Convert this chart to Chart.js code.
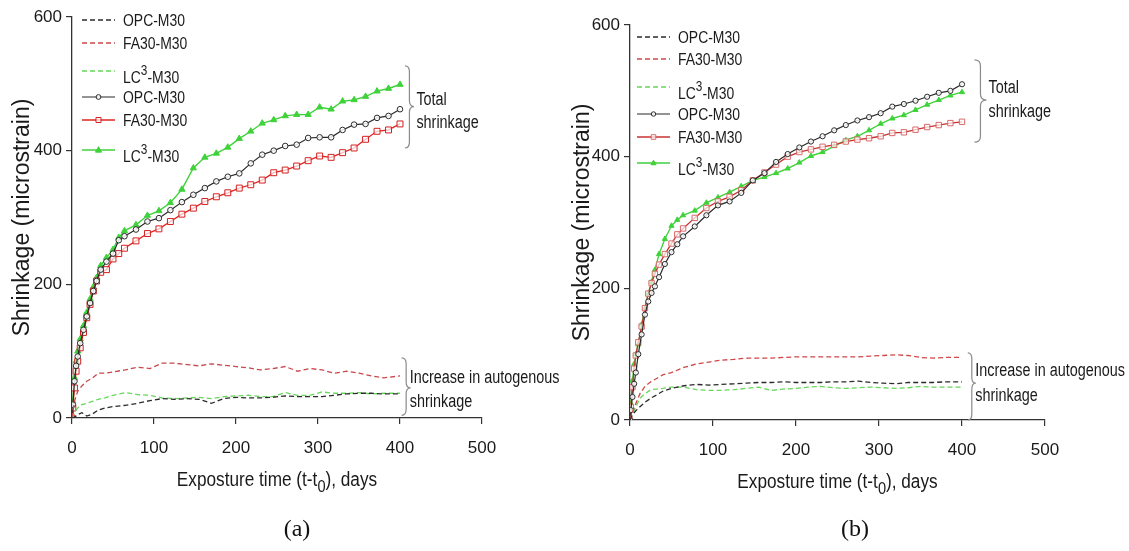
<!DOCTYPE html>
<html><head><meta charset="utf-8">
<script src="https://cdn.jsdelivr.net/npm/chart.js@4/dist/chart.umd.min.js"></script>
<style>
html,body{margin:0;padding:0;background:#fff;width:1129px;height:551px;overflow:hidden}
#ca{position:absolute;left:0;top:0}
#cb{position:absolute;left:560px;top:0}
</style></head><body>
<canvas id="ca" width="560" height="551"></canvas>
<canvas id="cb" width="569" height="551"></canvas>
<script>
// ---------------- DATA ----------------
const X_TICKS = [0, 100, 200, 300, 400, 500];
const Y_TICKS = [0, 200, 400, 600];

const DAYS_TOTAL = [0,1,3,5,7,10,14,18,22,26,30,35,42,50,57,64,78,92,106,120,134,148,162,176,190,204,218,232,246,260,274,288,302,316,330,344,358,372,386,400];
const DAYS_AUTO  = [0,3,7,12,18,25,32,40,50,65,80,95,110,125,140,155,170,185,200,215,230,245,260,275,290,305,320,335,350,365,380,400];

// panel (a)
const A_OPC_TOTAL = [0,20,55,78,92,112,132,152,172,190,205,222,234,246,266,272,282,294,299,311,323,334,344,354,361,366,381,394,400,407,409,419,420,420,431,439,440,449,452,462];
const A_FA_TOTAL  = [0,15,45,70,85,105,128,150,170,190,205,218,222,238,246,254,265,276,283,294,305,314,324,331,337,344,349,356,367,371,377,385,392,390,397,404,417,429,431,440];
const A_LC_TOTAL  = [0,25,60,85,100,118,138,158,178,196,210,228,240,252,270,280,289,303,310,322,342,374,390,396,405,418,429,441,446,452,454,454,465,462,474,476,481,489,493,499];
const A_OPC_AUTO  = [0,1,5,8,3,6,12,15,17,19,22,26,29,28,29,28,22,29,31,30,30,31,33,32,32,32,34,36,37,37,36,36];
const A_FA_AUTO   = [0,25,40,48,55,60,67,67,69,72,76,74,82,82,80,78,81,79,77,75,72,74,77,70,74,72,67,70,67,63,60,63];
const A_LC_AUTO   = [0,8,15,20,22,25,28,30,34,38,35,34,30,29,30,31,29,32,33,34,32,32,38,34,34,39,37,37,38,36,37,37];

// panel (b)
const B_OPC_TOTAL = [0,15,35,55,72,100,130,160,180,193,203,217,237,255,267,279,294,311,326,332,345,364,375,392,404,414,423,431,440,448,455,460,466,476,480,485,491,497,500,510];
const B_FA_TOTAL  = [0,20,50,78,98,118,142,170,192,208,222,236,252,268,282,291,307,322,332,339,349,364,376,388,400,407,411,415,418,423,426,428,431,436,437,441,445,448,451,453];
const B_LC_TOTAL  = [0,25,60,85,100,115,145,170,192,210,228,252,275,295,304,311,318,330,338,346,355,364,369,375,382,391,401,407,416,425,431,440,450,458,463,471,479,486,493,498];
const B_OPC_AUTO  = [0,8,14,20,27,33,38,44,48,52,54,53,54,55,56,57,57,58,57,57,57,58,58,59,57,56,55,57,57,57,58,58];
const B_FA_AUTO   = [0,12,25,40,51,58,63,69,72,80,85,88,91,92,94,94,94,95,96,96,96,96,96,96,97,98,99,98,95,94,95,95];
const B_LC_AUTO   = [0,8,20,33,40,46,47,48,50,50,46,45,45,46,48,50,45,47,48,50,51,49,48,49,50,49,48,49,51,50,50,50];

const SERIES_LABELS = ['OPC-M30','FA30-M30','LC^3-M30','OPC-M30','FA30-M30','LC^3-M30'];
const X_TITLE = 'Exposture time (t-t_0), days';
const Y_TITLE = 'Shrinkage (microstrain)';
const PANEL_LABELS = ['(a)', '(b)'];
const NOTE_TOTAL = ['Total', 'shrinkage'];
const NOTE_AUTO = ['Increase in autogenous', 'shrinkage'];

// ---------------- HELPERS ----------------
const FONT_R = '"Liberation Sans",Arial,sans-serif';
const FONT_S = '"Liberation Serif","Times New Roman",serif';

function zip(xs, ys){ return xs.map((x,i)=>({x:x, y:ys[i]})); }

function tokens(str){
  return str.split(/(\^.|_.)/).filter(s=>s.length).map(s=>{
    if (s[0]==='^') return {t:s.slice(1), k:'sup'};
    if (s[0]==='_') return {t:s.slice(1), k:'sub'};
    return {t:s, k:'n'};
  });
}
// draws text with optional super/subscripts; sx = horizontal condensing (narrow face look)
function drawRich(ctx, str, x, y, size, family, align, sx){
  sx = sx || 1;
  const tk = tokens(str);
  const fN = size + 'px ' + family, fS = (size*0.85).toFixed(1) + 'px ' + family;
  let w = 0;
  tk.forEach(o=>{ ctx.font = o.k==='n'?fN:fS; o.w = ctx.measureText(o.t).width; w += o.w; });
  const start = align==='center' ? x - w*sx/2 : x;
  ctx.save();
  ctx.translate(start, y);
  ctx.scale(sx, 1);
  ctx.textAlign = 'left'; ctx.textBaseline = 'alphabetic';
  let cx = 0;
  tk.forEach(o=>{
    ctx.font = o.k==='n'?fN:fS;
    const dy = o.k==='sup' ? -size*0.45 : (o.k==='sub' ? size*0.3 : 0);
    ctx.fillText(o.t, cx, dy);
    cx += o.w;
  });
  ctx.restore();
}
function marker(ctx, style, x, y, r, fill, stroke, lw){
  ctx.save();
  ctx.beginPath();
  if (style==='circle') ctx.arc(x, y, r, 0, Math.PI*2);
  else if (style==='rect') { const s = r*Math.SQRT1_2; ctx.rect(x-s, y-s, 2*s, 2*s); }
  else if (style==='triangle') { ctx.moveTo(x, y-r*1.1); ctx.lineTo(x+r, y+r*0.7); ctx.lineTo(x-r, y+r*0.7); ctx.closePath(); }
  ctx.fillStyle = fill; ctx.fill();
  ctx.lineWidth = lw; ctx.strokeStyle = stroke; ctx.stroke();
  ctx.restore();
}
function brace(ctx, x, y1, y2, ym, w){
  const r = 6, xm = x + w*0.5;
  ctx.beginPath();
  ctx.moveTo(x, y1);
  ctx.quadraticCurveTo(xm, y1, xm, y1 + r);
  ctx.lineTo(xm, ym - r);
  ctx.quadraticCurveTo(xm, ym, x + w, ym);
  ctx.quadraticCurveTo(xm, ym, xm, ym + r);
  ctx.lineTo(xm, y2 - r);
  ctx.quadraticCurveTo(xm, y2, x, y2);
  ctx.stroke();
}

const decoPlugin = {
  id: 'deco',
  afterDraw(chart, args, o){
    const ctx = chart.ctx, a = chart.chartArea, xs = chart.scales.x, ys = chart.scales.y;
    ctx.save();
    // legend
    const L = o.legend;
    chart.data.datasets.forEach((ds, i)=>{
      const y = a.top + L.rows[i];
      const x1 = a.left + L.x1, x2 = a.left + L.x2;
      ctx.save();
      ctx.strokeStyle = ds.borderColor; ctx.lineWidth = ds.borderWidth;
      ctx.setLineDash(ds.borderDash || []);
      ctx.beginPath(); ctx.moveTo(x1, y); ctx.lineTo(x2, y); ctx.stroke();
      ctx.restore();
      if (ds.pointRadius > 0) marker(ctx, ds.pointStyle, (x1+x2)/2, y, ds.pointRadius*0.85, ds.pointBackgroundColor, ds.pointBorderColor, ds.pointBorderWidth);
      ctx.fillStyle = '#1a1a1a';
      const lbl = SERIES_LABELS[i];
      drawRich(ctx, lbl, a.left + L.tx, y + (lbl.indexOf('^')>=0 ? L.dySup : L.dy), L.size, FONT_R, 'left', 0.82);
    });
    // annotations (braces in data units)
    ctx.strokeStyle = '#8a8a8a'; ctx.lineWidth = 1.2; ctx.fillStyle = '#1a1a1a';
    o.notes.forEach(n=>{
      brace(ctx, xs.getPixelForValue(n.bx), ys.getPixelForValue(n.yTop), ys.getPixelForValue(n.yBot), ys.getPixelForValue(n.yTip), n.bw);
      n.lines.forEach((t, k)=>{
        drawRich(ctx, t, xs.getPixelForValue(n.tx), ys.getPixelForValue(n.ty[k]), o.noteSize, FONT_R, 'left', 0.8);
      });
    });
    // axis titles
    ctx.fillStyle = '#1a1a1a';
    drawRich(ctx, X_TITLE, (a.left + a.right)/2, o.xTitleY, o.xTitleSize, FONT_R, 'center', 0.86);
    ctx.save();
    ctx.translate(o.yTitleX, (a.top + a.bottom)/2);
    ctx.rotate(-Math.PI/2);
    drawRich(ctx, Y_TITLE, 0, 0, o.yTitleSize, FONT_R, 'center', 1);
    ctx.restore();
    // panel label
    ctx.fillStyle = '#111';
    drawRich(ctx, o.panel, o.panelX, o.panelY, 24, FONT_S, 'center', 1);
    ctx.restore();
  }
};

function makeChart(id, sets, cfg){
  const datasets = [
    {data: zip(DAYS_AUTO, sets.opcA), borderColor: '#2b2b2b', borderDash:[5,3], borderWidth:1.3, pointRadius:0},
    {data: zip(DAYS_AUTO, sets.faA),  borderColor: cfg.redDash, borderDash:[5,3], borderWidth:1.3, pointRadius:0},
    {data: zip(DAYS_AUTO, sets.lcA),  borderColor: '#66d85a', borderDash:[5,3], borderWidth:1.3, pointRadius:0},
    {data: zip(DAYS_TOTAL, sets.opcT), borderColor: '#2b2b2b', borderWidth:1.2, pointStyle:'circle', pointRadius:cfg.rc,
      pointBackgroundColor:'rgba(255,255,255,0.85)', pointBorderColor:'#2b2b2b', pointBorderWidth:1},
    {data: zip(DAYS_TOTAL, sets.faT),  borderColor: cfg.red, borderWidth:1.3, pointStyle:'rect', pointRadius:cfg.rs,
      pointBackgroundColor:'rgba(255,255,255,0.7)', pointBorderColor: cfg.redPt, pointBorderWidth:1},
    {data: zip(DAYS_TOTAL, sets.lcT),  borderColor: '#3fd23a', borderWidth:1.4, pointStyle:'triangle', pointRadius:cfg.rt,
      pointBackgroundColor:'#3fd23a', pointBorderColor:'#3fd23a', pointBorderWidth:1},
  ];
  datasets.forEach((d,i)=>{ d.label = SERIES_LABELS[i]; d.tension = 0; d.fill = false; d.pointHoverRadius = 0; });
  return new Chart(document.getElementById(id), {
    type: 'line',
    data: {datasets},
    plugins: [decoPlugin],
    options: {
      responsive:false, animation:false, events:[],
      layout:{padding:{left:0, top:cfg.top, right:cfg.right, bottom:0}},
      plugins:{legend:{display:false}, tooltip:{enabled:false}, deco: cfg.deco},
      scales:{
        x:{type:'linear', min:0, max:500,
          afterBuildTicks: s=>{ s.ticks = X_TICKS.map(v=>({value:v})); },
          afterFit: s=>{ s.height = cfg.xh; },
          grid:{display:true, drawOnChartArea:false, drawTicks:true, tickLength:6, color:'#333', lineWidth:1.2},
          border:{display:true, color:'#333', width:1.3},
          ticks:{color:'#1a1a1a', font:{family:FONT_R, size:17}, padding:14, maxRotation:0, autoSkip:false}},
        y:{type:'linear', min:0, max:600,
          afterBuildTicks: s=>{ s.ticks = Y_TICKS.map(v=>({value:v})); },
          afterFit: s=>{ s.width = cfg.yw; },
          grid:{display:true, drawOnChartArea:false, drawTicks:true, tickLength:6, color:'#333', lineWidth:1.2},
          border:{display:true, color:'#333', width:1.3},
          ticks:{color:'#1a1a1a', font:{family:FONT_R, size:17}, padding:4}}
      }
    }
  });
}

makeChart('ca', {opcA:A_OPC_AUTO, faA:A_FA_AUTO, lcA:A_LC_AUTO, opcT:A_OPC_TOTAL, faT:A_FA_TOTAL, lcT:A_LC_TOTAL}, {
  top:17, right:78, xh:133, yw:72, rc:2.8, rs:4.2, rt:3.6,
  red:'#e0241f', redPt:'#d42020', redDash:'#c8484b',
  deco:{
    legend:{x1:10, x2:43, tx:51, rows:[3,26,54,80,103,133], dy:6, dySup:12, size:17},
    notes:[
      {bx:406, bw:9, yTop:527, yBot:404, yTip:466, tx:420, ty:[469,434], lines:NOTE_TOTAL},
      {bx:402, bw:9, yTop:90, yBot:4, yTip:45, tx:412, ty:[52,16], lines:NOTE_AUTO}
    ],
    noteSize:18, xTitleY:486, xTitleSize:20, yTitleX:29, yTitleSize:23,
    panel:PANEL_LABELS[0], panelX:297, panelY:536
  }
});

makeChart('cb', {opcA:B_OPC_AUTO, faA:B_FA_AUTO, lcA:B_LC_AUTO, opcT:B_OPC_TOTAL, faT:B_FA_TOTAL, lcT:B_LC_TOTAL}, {
  top:25, right:84, xh:131, yw:70, rc:2.6, rs:3.8, rt:3.0,
  red:'#c83232', redPt:'#d86a6a', redDash:'#d04848',
  deco:{
    legend:{x1:7, x2:40, tx:48, rows:[12,34,62,89,112,138], dy:6, dySup:12, size:17},
    notes:[
      {bx:415, bw:12, yTop:547, yBot:422, yTip:486, tx:432, ty:[497,461], lines:NOTE_TOTAL},
      {bx:407, bw:8, yTop:102, yBot:0, yTip:56, tx:416, ty:[67,29], lines:NOTE_AUTO}
    ],
    noteSize:18, xTitleY:488, xTitleSize:20, yTitleX:29, yTitleSize:23,
    panel:PANEL_LABELS[1], panelX:295, panelY:536
  }
});
</script>
</body></html>
